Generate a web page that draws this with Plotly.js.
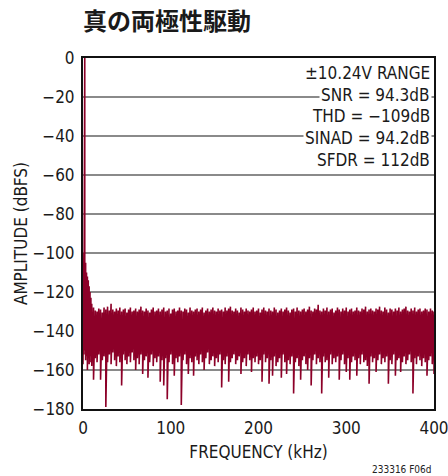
<!DOCTYPE html>
<html><head><meta charset="utf-8">
<script src="https://cdn.plot.ly/plotly-3.0.1.min.js"></script>
<style>html,body{margin:0;padding:0;background:#fff}#chart{width:448px;height:476px}</style>
</head><body><div id="chart"></div>
<script>
// FFT bins (kHz)
const freqKHz = [0,1,2,3,4,5,6,7,8,9,10,
12,14,16,18,20,22,24,26,28,30,
32,34,36,38,40,42,44,46,48,50,
52,54,56,58,60,62,64,66,68,70,
72,74,76,78,80,82,84,86,88,90,
92,94,96,98,100,102,104,106,108,110,
112,114,116,118,120,122,124,126,128,130,
132,134,136,138,140,142,144,146,148,150,
152,154,156,158,160,162,164,166,168,170,
172,174,176,178,180,182,184,186,188,190,
192,194,196,198,200,202,204,206,208,210,
212,214,216,218,220,222,224,226,228,230,
232,234,236,238,240,242,244,246,248,250,
252,254,256,258,260,262,264,266,268,270,
272,274,276,278,280,282,284,286,288,290,
292,294,296,298,300,302,304,306,308,310,
312,314,316,318,320,322,324,326,328,330,
332,334,336,338,340,342,344,346,348,350,
352,354,356,358,360,362,364,366,368,370,
372,374,376,378,380,382,384,386,388,390,
392,394,396,398,400];
// upper envelope of each bin group (dBFS)
const upperDB = [-110,-100,0,-105,-110,-112,-114,-117,-120,-123,-126,
-128,-129.5,-130,-128.5,-129,-130.5,-128,-129,-127.5,-129.5,
-126,-129,-130,-128.5,-129.5,-128,-130,-129,-128.5,-130.5,
-129,-128,-130,-129.5,-128.5,-130,-129,-127.5,-129.5,-130,
-128.5,-129.5,-130.5,-129,-128,-130,-129.5,-128.5,-130,-129,
-128,-130,-129.5,-128.5,-131,-129,-128.5,-130,-129.5,-128,
-129.5,-130,-128.5,-129,-130.5,-128,-129.5,-130,-129,-128.5,
-130,-129,-128,-130.5,-129.5,-128.5,-130,-129,-128,-129.5,
-130,-128.5,-129.5,-129,-130,-128,-129.5,-128.5,-127.5,-129.5,
-130,-128.5,-129.5,-130.5,-128,-129,-130,-128.5,-129.5,-130,
-129,-128,-130,-129.5,-128.5,-130.5,-129,-128,-129.5,-130,
-128.5,-129.5,-130,-128,-129,-130.5,-129.5,-128.5,-130,-129,
-128,-129.5,-130.5,-129,-128.5,-130,-128,-129.5,-130,-129,
-128.5,-130,-129,-127.5,-129.5,-130,-128.5,-129,-126.5,-129.5,
-130,-128.5,-129.5,-128,-130,-129,-128.5,-130.5,-129.5,-128,
-129,-130,-128.5,-129.5,-128,-130,-129,-128.5,-130,-129.5,
-128,-129.5,-130,-128.5,-129,-127.5,-130,-129,-128.5,-129.5,
-130,-128.5,-129,-127.5,-129.5,-130,-128,-129,-130.5,-128.5,
-129,-130,-128.5,-129.5,-128,-130,-129,-128.5,-127.5,-129.5,
-130,-128.5,-129.5,-128,-130,-129,-128.5,-130,-129.5,-128.5,
-129,-130,-128.5,-129.5,-130];
// lower envelope of each bin group (dBFS)
const lowerDB = [-157,-152,-150,-155,-153,-160,-154,-157,-153,-156,-158,
-165,-154,-156,-152,-165,-155,-153,-179,-156,-152,
-157,-151,-155,-158,-153,-156,-168,-152,-155,-157,
-153,-156,-151,-155,-160,-154,-157,-152,-162,-155,
-153,-164,-156,-152,-158,-154,-156,-153,-166,-155,
-168,-154,-175,-156,-152,-157,-163,-154,-156,-153,
-178,-155,-152,-157,-162,-154,-156,-163,-153,-155,
-157,-152,-156,-160,-154,-151,-157,-155,-153,-158,
-154,-156,-152,-169,-155,-157,-153,-166,-156,-154,
-152,-157,-155,-153,-162,-156,-154,-158,-152,-155,
-161,-154,-156,-153,-157,-155,-166,-152,-156,-154,
-167,-155,-163,-153,-158,-156,-154,-164,-152,-156,
-162,-155,-157,-153,-172,-156,-154,-158,-165,-155,
-153,-157,-160,-154,-168,-155,-152,-157,-154,-156,
-172,-153,-156,-155,-164,-152,-157,-154,-156,-153,
-165,-155,-152,-157,-161,-154,-165,-156,-153,-155,
-163,-154,-157,-152,-156,-155,-158,-167,-153,-156,
-154,-161,-155,-152,-157,-154,-156,-153,-167,-155,
-157,-152,-163,-155,-154,-161,-156,-153,-157,-155,
-152,-156,-172,-154,-157,-153,-155,-158,-154,-156,
-163,-155,-153,-157,-162];

const yTickVals = [0,-20,-40,-60,-80,-100,-120,-140,-160,-180];
const yTickText = ['0','\u221220','\u221240','\u221260','\u221280','\u2212100','\u2212120','\u2212140','\u2212160','\u2212180'];
const xTickVals = [0,100,200,300,400];
const xTickText = ['0','100','200','300','400'];
const infoLines = ['\u00b110.24V RANGE','SNR = 94.3dB','THD = \u2212109dB','SINAD = 94.2dB','SFDR = 112dB'];

// zig-zag through each bin's upper and lower value
const xs = [], ys = [];
for (let i = 0; i < freqKHz.length; i++) {
  xs.push(freqKHz[i], freqKHz[i]);
  ys.push(upperDB[i], lowerDB[i]);
}

const FONT = "'Liberation Sans Narrow','DejaVu Sans Condensed','Liberation Sans',sans-serif";

const annotations = infoLines.map((t, i) => ({
  xref: 'paper', yref: 'paper', x: 0.993, y: 1 - 0.008 - i * 0.062,
  xanchor: 'right', yanchor: 'top', text: t, showarrow: false,
  bgcolor: '#ffffff', borderpad: 1,
  font: {family: FONT, size: 17, color: '#1a1a1a'}
}));
annotations.push({
  xref: 'paper', yref: 'paper', x: 1.0, y: -0.152, xanchor: 'right', yanchor: 'top',
  text: '233316 F06d', showarrow: false,
  font: {family: FONT, size: 10, color: '#222'}
});

Plotly.newPlot('chart', [{
  x: xs, y: ys, type: 'scatter', mode: 'lines',
  line: {color: '#8c0028', width: 1.6}, hoverinfo: 'skip'
}], {
  width: 448, height: 476,
  margin: {l: 83, r: 14, t: 58, b: 67},
  paper_bgcolor: '#fff', plot_bgcolor: '#fff',
  showlegend: false,
  title: {text: '真の両極性駆動', x: 0, xref: 'paper', xanchor: 'left', y: 0.955, yanchor: 'middle',
    font: {family: "'Noto Sans CJK JP',sans-serif", size: 24, color: '#1a1a1a', weight: 'bold'}},
  xaxis: {range: [0, 400], tickvals: xTickVals, ticktext: xTickText, showgrid: false, zeroline: false,
    showline: true, linecolor: '#111', linewidth: 2, mirror: true, ticks: '',
    ticklabeloverflow: 'allow', ticklabelstandoff: 3,
    tickfont: {family: FONT, size: 17, color: '#1a1a1a'},
    title: {text: 'FREQUENCY (kHz)', standoff: 9, font: {family: FONT, size: 17, color: '#1a1a1a'}}},
  yaxis: {range: [-180, 0], tickvals: yTickVals, ticktext: yTickText, showgrid: true, gridcolor: '#8a8a8a', gridwidth: 1.2,
    zeroline: false, showline: true, linecolor: '#111', linewidth: 2, mirror: true, ticks: '',
    ticklabelstandoff: 3,
    tickfont: {family: FONT, size: 17, color: '#1a1a1a'},
    title: {text: 'AMPLITUDE (dBFS)', standoff: 1, font: {family: FONT, size: 17, color: '#1a1a1a'}}},
  annotations: annotations
}, {displayModeBar: false, staticPlot: true});
</script></body></html>
